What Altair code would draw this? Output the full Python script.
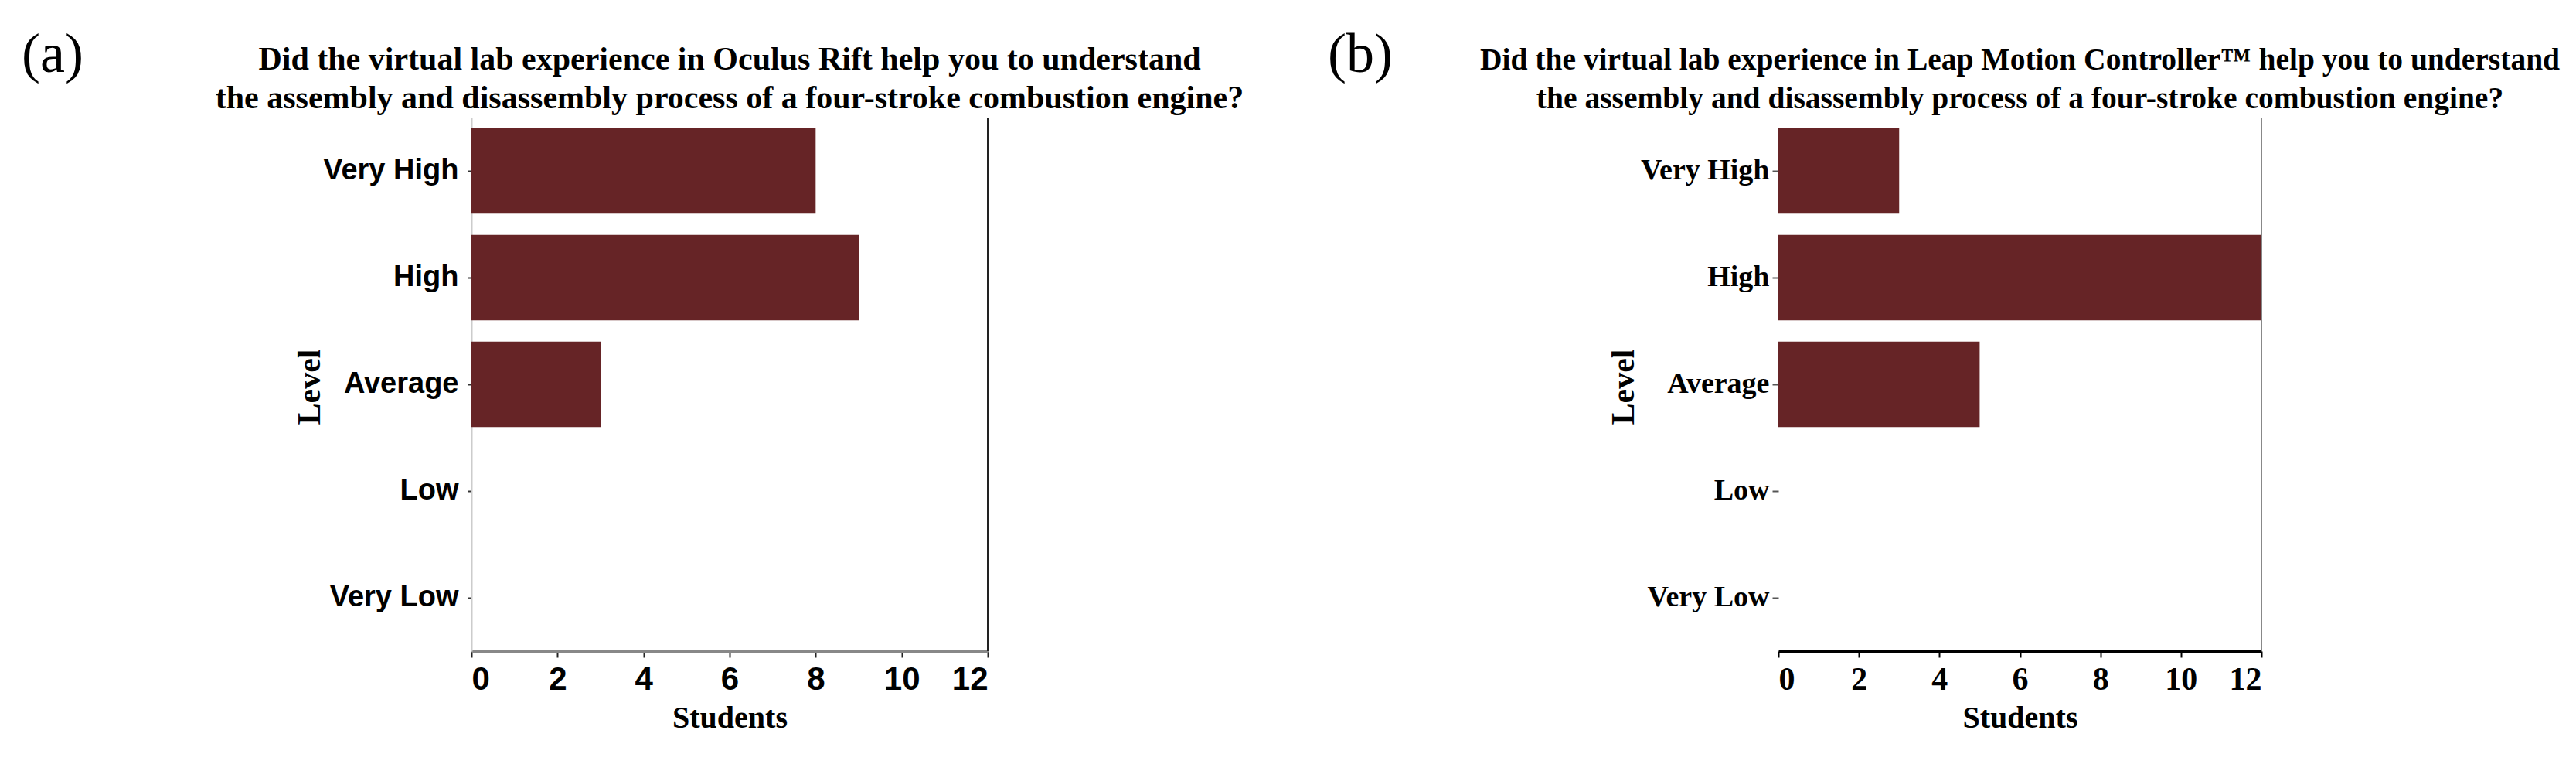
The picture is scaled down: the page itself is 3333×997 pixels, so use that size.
import altair as alt
import pandas as pd

# ---- data ----
levels = ["Very High", "High", "Average", "Low", "Very Low"]
students_a = [8, 9, 3, 0, 0]
students_b = [3, 12, 5, 0, 0]
x_ticks = [0, 2, 4, 6, 8, 10, 12]
title_a = [
    "Did the virtual lab experience in Oculus Rift help you to understand",
    "the assembly and disassembly process of a four-stroke combustion engine?",
]
title_b = [
    "Did the virtual lab experience in Leap Motion Controller\u2122 help you to understand",
    "the assembly and disassembly process of a four-stroke combustion engine?",
]
panel_labels = ["(a)", "(b)"]
x_title = "Students"
y_title = "Level"

BAR = "#662426"
H = 690
SERIF = "Liberation Serif"
SANS = "Liberation Sans"


def text_layer(txt, x, y, size, weight="bold", align="center", font=SERIF):
    return alt.Chart(pd.DataFrame({"t": [txt]})).mark_text(
        font=font, fontSize=size, fontWeight=weight, align=align,
        baseline="alphabetic", color="black"
    ).encode(text="t:N", x=alt.value(x), y=alt.value(y))


def panel(values, width, label, label_x, titles, title_size, style):
    df = pd.DataFrame({"Level": levels, "Students": values})
    if style == "a":
        yaxis = alt.Axis(
            title=y_title, titleFont=SERIF, titleFontSize=42, titleFontWeight="bold",
            titleAngle=270, titleAlign="center", titleBaseline="alphabetic",
            titleX=-197, titleY=H / 2 + 3, titleColor="black",
            labelFont=SANS, labelFontSize=38, labelFontWeight="bold", labelLimit=0,
            labelColor="black", labelPadding=12, tickSize=5, tickColor="#333333",
            tickWidth=2, domainColor="#cccccc", domainWidth=2,
        )
        xaxis = alt.Axis(
            title=x_title, titleFont=SERIF, titleFontSize=40, titleFontWeight="bold",
            titleBaseline="alphabetic", titleY=98, titleX=width / 2, titleColor="black",
            values=x_ticks, labelFont=SANS, labelFontSize=42,
            labelFontWeight="bold", labelColor="black", labelPadding=8,
            tickSize=8, tickColor="#222222", tickWidth=2,
            domainColor="#888888", domainWidth=3, grid=False,
        )
        spine_color = "#222222"
    else:
        yaxis = alt.Axis(
            title=y_title, titleFont=SERIF, titleFontSize=42, titleFontWeight="bold",
            titleAngle=270, titleAlign="center", titleBaseline="alphabetic",
            titleX=-188, titleY=H / 2 + 3, titleColor="black",
            labelFont=SERIF, labelFontSize=38, labelFontWeight="bold", labelLimit=0,
            labelColor="black", labelPadding=4, tickSize=8, tickColor="#555555",
            tickWidth=2, domain=False,
        )
        xaxis = alt.Axis(
            title=x_title, titleFont=SERIF, titleFontSize=40, titleFontWeight="bold",
            titleBaseline="alphabetic", titleY=98, titleX=width / 2, titleColor="black",
            values=x_ticks, labelFont=SERIF, labelFontSize=42,
            labelFontWeight="bold", labelColor="black", labelPadding=8,
            tickSize=8, tickColor="black", tickWidth=2,
            domainColor="black", domainWidth=3, grid=False,
        )
        spine_color = "#888888"

    bars = alt.Chart(df).mark_bar(color=BAR).encode(
        x=alt.X("Students:Q", scale=alt.Scale(domain=[0, 12], nice=False), axis=xaxis),
        y=alt.Y("Level:N", sort=levels,
                scale=alt.Scale(paddingInner=0.2, paddingOuter=0.1), axis=yaxis),
    )
    spine = alt.Chart(pd.DataFrame({"s": [0]})).mark_rule(
        color=spine_color, strokeWidth=2
    ).encode(x=alt.value(width), y=alt.value(0), y2=alt.value(H))

    layers = [
        bars,
        spine,
        text_layer(titles[0], width / 2, -62, title_size),
        text_layer(titles[1], width / 2, -12, title_size),
        text_layer(label, label_x, -59, 72, weight="normal", align="left"),
    ]
    if style == "a":
        anchor = alt.Chart(pd.DataFrame({"s": [0]})).mark_rule(
            opacity=0, strokeWidth=0
        ).encode(x=alt.value(-602), x2=alt.value(-602),
                 y=alt.value(-144), y2=alt.value(-144))
        layers.append(anchor)
    return alt.layer(*layers).properties(width=width, height=H)


left = panel(students_a, 668, panel_labels[0], -582, title_a, 42, "a")
right = panel(students_b, 625, panel_labels[1], -583, title_b, 39.5, "b")

chart = alt.hconcat(left, right, spacing=1023, bounds="flush").properties(
    padding=0
).configure_view(strokeWidth=0).configure_axis(grid=False)

chart.save("out.html", embed_options={"renderer": "svg", "actions": False})
